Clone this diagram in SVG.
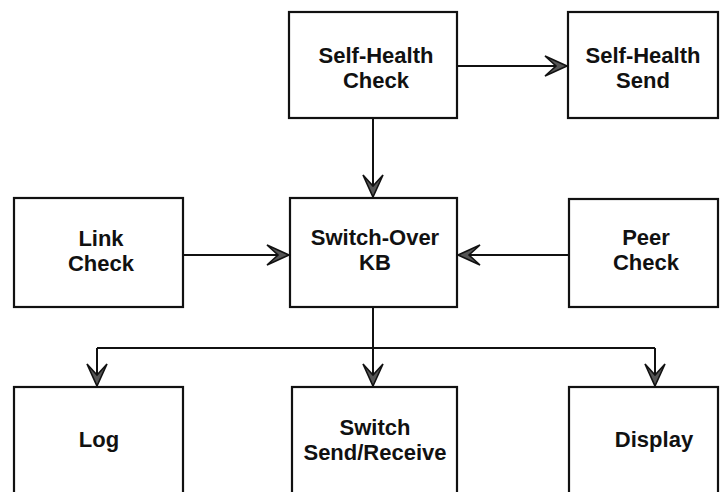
<svg xmlns="http://www.w3.org/2000/svg" width="727" height="492" viewBox="0 0 727 492">
  <style>
    .box { fill: #fff; stroke: #111; stroke-width: 2.2; }
    .lbl { font-family: "Liberation Sans", Arial, sans-serif; font-weight: bold; font-size: 22px; fill: #111; text-anchor: middle; }
    .wire { fill: none; stroke: #111; stroke-width: 2; }
  </style>
  <defs>
    <marker id="arrow" markerUnits="userSpaceOnUse" markerWidth="30" markerHeight="26" viewBox="-24 -13 26 26" refX="0" refY="0" orient="auto">
      <path d="M0,0 L-22,-10 L-11,0 L-22,10 Z" fill="#555" stroke="#111" stroke-width="1.6" stroke-linejoin="miter"/>
    </marker>
  </defs>
  <rect width="727" height="492" fill="#fff"/>

  <g id="self-health-check">
    <rect class="box" x="289" y="12" width="168" height="106"/>
    <text class="lbl" x="376" y="63">Self-Health</text>
    <text class="lbl" x="376" y="88">Check</text>
  </g>
  <g id="self-health-send">
    <rect class="box" x="568" y="12" width="150" height="106"/>
    <text class="lbl" x="643" y="63">Self-Health</text>
    <text class="lbl" x="643" y="88">Send</text>
  </g>
  <g id="link-check">
    <rect class="box" x="14" y="198" width="169" height="109"/>
    <text class="lbl" x="101" y="246">Link</text>
    <text class="lbl" x="101" y="271">Check</text>
  </g>
  <g id="switch-over-kb">
    <rect class="box" x="290" y="198" width="167" height="109"/>
    <text class="lbl" x="375" y="245">Switch-Over</text>
    <text class="lbl" x="375" y="270">KB</text>
  </g>
  <g id="peer-check">
    <rect class="box" x="569" y="199" width="149" height="108"/>
    <text class="lbl" x="646" y="245">Peer</text>
    <text class="lbl" x="646" y="270">Check</text>
  </g>
  <g id="log">
    <rect class="box" x="14" y="387" width="169" height="120"/>
    <text class="lbl" x="99" y="447">Log</text>
  </g>
  <g id="switch-send-receive">
    <rect class="box" x="292" y="387" width="165" height="120"/>
    <text class="lbl" x="375" y="435">Switch</text>
    <text class="lbl" x="375" y="460">Send/Receive</text>
  </g>
  <g id="display">
    <rect class="box" x="569" y="387" width="149" height="120"/>
    <text class="lbl" x="654" y="447">Display</text>
  </g>

  <g id="connectors">
    <path class="wire" d="M457,66 H567" marker-end="url(#arrow)"/>
    <path class="wire" d="M373,118 V197" marker-end="url(#arrow)"/>
    <path class="wire" d="M183,255 H289" marker-end="url(#arrow)"/>
    <path class="wire" d="M569,255 H458" marker-end="url(#arrow)"/>
    <path class="wire" d="M373,307 V386" marker-end="url(#arrow)"/>
    <path class="wire" d="M97,348 H655"/>
    <path class="wire" d="M97,348 V386" marker-end="url(#arrow)"/>
    <path class="wire" d="M655,348 V386" marker-end="url(#arrow)"/>
  </g>
</svg>
